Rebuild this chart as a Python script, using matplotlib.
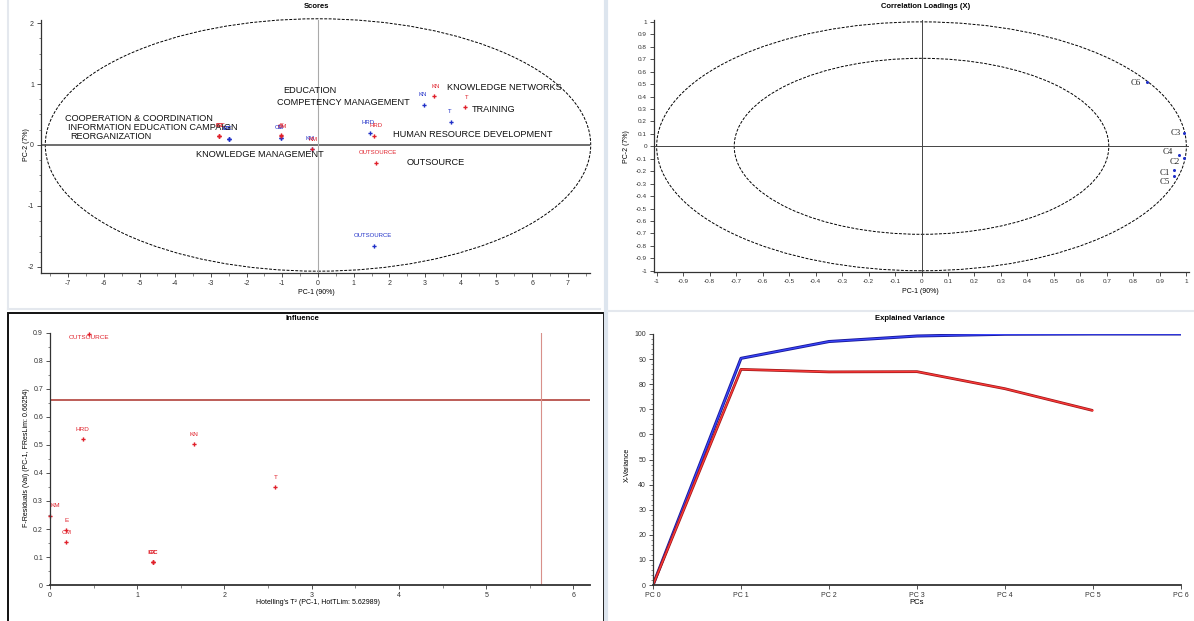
import matplotlib
matplotlib.use("Agg")
import matplotlib.pyplot as plt
import numpy as np
from matplotlib.patches import Ellipse, Rectangle
from matplotlib.lines import Line2D
from matplotlib.ticker import MultipleLocator, FixedLocator

plt.rcParams['font.family'] = ['Liberation Sans', 'DejaVu Sans']
plt.rcParams['axes.unicode_minus'] = False

# ---------------------------------------------------------------------------
# DATA
# ---------------------------------------------------------------------------
# Scores (PC-1 / PC-2), red = validation, blue = calibration
score_names = ["KN", "T", "HRD", "OUTSOURCE", "KM", "E", "CM", "CC", "IEC", "R"]
score_red_x = [3.25, 4.12, 1.58, 1.63, -0.18, -1.05, -1.05, -2.78, -2.78, -2.78]
score_red_y = [0.80, 0.62, 0.15, -0.29, -0.07, 0.16, 0.14, 0.15, 0.15, 0.15]
score_blue_x = [2.97, 3.73, 1.45, 1.58, -0.18, -1.05, -1.05, -2.50, -2.50, -2.50]
score_blue_y = [0.66, 0.37, 0.19, -1.66, -0.07, 0.12, 0.12, 0.10, 0.10, 0.10]

# black annotations written on the scores plot
note_text = ["KNOWLEDGE NETWORKS", "TRAINING", "HUMAN RESOURCE DEVELOPMENT",
             "OUTSOURCE", "KNOWLEDGE MANAGEMENT", "EDUCATION",
             "COMPETENCY MANAGEMENT", "COOPERATION & COORDINATION",
             "INFORMATION EDUCATION CAMPAIGN", "REORGANIZATION"]
note_x = [3.62, 4.32, 2.09, 2.49, -3.43, -0.97, -1.14, -7.1, -7.0, -6.95]
note_y = [0.95, 0.59, 0.18, -0.28, -0.16, 0.90, 0.70, 0.44, 0.29, 0.14]

# Correlation loadings (X)
load_names = ["C1", "C2", "C3", "C4", "C5", "C6"]
load_x = [0.955, 0.99, 0.99, 0.974, 0.955, 0.85]
load_y = [-0.19, -0.094, 0.107, -0.067, -0.24, 0.52]

# Influence
inf_names = ["OUTSOURCE", "HRD", "KN", "T", "KM", "E", "CM", "CC", "IEC", "R"]
inf_x = [0.45, 0.376, 1.655, 2.584, 0.0, 0.186, 0.186, 1.18, 1.18, 1.18]
inf_y = [0.895, 0.52, 0.504, 0.35, 0.248, 0.195, 0.152, 0.081, 0.081, 0.081]
fres_lim = 0.661
hot_lim = 5.62989

# Explained variance
pc_labels = ["PC 0", "PC 1", "PC 2", "PC 3", "PC 4", "PC 5", "PC 6"]
var_calib = [0, 90.3, 97.0, 99.2, 99.9, 100, 100]
var_valid = [0, 85.9, 84.9, 85.0, 78.2, 69.5]

# ---------------------------------------------------------------------------
RED = "#e0202a"
BLUE = "#2030c8"
W, H = 1194, 621
fig = plt.figure(figsize=(W / 100, H / 100), dpi=100)


def box(l, t, r, b):
    return [l / W, 1 - b / H, (r - l) / W, (b - t) / H]


def style(ax):
    for s in ["top", "right"]:
        ax.spines[s].set_visible(False)
    for s in ["left", "bottom"]:
        ax.spines[s].set_linewidth(0.9)
        ax.spines[s].set_color("#333333")
    ax.tick_params(which="major", direction="out", length=3, width=0.6,
                   labelsize=5, pad=2, colors="#333333")
    ax.tick_params(which="minor", direction="out", length=1.8, width=0.5,
                   colors="#555555")


def fmt(v):
    v = round(v, 3)
    return "0" if v == 0 else ("%g" % v)


# panel separators
fig.add_artist(Line2D([606 / W, 606 / W], [0, 1], color="#dde5ee", lw=3))
fig.add_artist(Line2D([8 / W, 600 / W], [1 - 309 / H] * 2, color="#e4e8ee", lw=1.5))
fig.add_artist(Line2D([8 / W, 8 / W], [1 - 309 / H, 1], color="#e4e8ee", lw=1.5))
fig.add_artist(Line2D([608 / W, 1194 / W], [1 - 311 / H] * 2, color="#e4e8ee", lw=1.5))
fig.add_artist(Rectangle((8 / W, -0.01), (604 - 8) / W, 1 - 313 / H + 0.01,
                         transform=fig.transFigure, fill=False,
                         edgecolor="#111111", lw=1.4))

# ---------------------------------------------------------------------------
# SCORES
# ---------------------------------------------------------------------------
ax1 = fig.add_axes(box(41, 20, 590, 273))
style(ax1)
ax1.set_xlim(-7.76, 7.62)
ax1.set_ylim(-2.1, 2.05)
ax1.axhline(0, color="#555555", lw=1.2)
ax1.axvline(0, color="#aaaaaa", lw=0.8)
ax1.add_patch(Ellipse((0, 0), 2 * 7.64, 2 * 2.07, fill=False, color="black",
                      lw=0.7, ls=(0, (3, 1.5)), clip_on=False))
ax1.plot(score_blue_x, score_blue_y, "P", color=BLUE, ms=3, mew=0)
ax1.plot(score_red_x, score_red_y, "P", color=RED, ms=3, mew=0)
for n, x, y in zip(score_names, score_blue_x, score_blue_y):
    ax1.annotate(n, (x, y), xytext=(-1, 6.5), textcoords="offset points",
                 ha="center", fontsize=4.3, color=BLUE)
for n, x, y in zip(score_names, score_red_x, score_red_y):
    ax1.annotate(n, (x, y), xytext=(1, 6), textcoords="offset points",
                 ha="center", fontsize=4.3, color=RED)
for t, x, y in zip(note_text, note_x, note_y):
    ax1.text(x, y, t, fontsize=6.6, va="center", ha="left", color="#111111")
ax1.xaxis.set_major_locator(MultipleLocator(1))
ax1.xaxis.set_minor_locator(MultipleLocator(0.5))
ax1.yaxis.set_major_locator(MultipleLocator(1))
ax1.yaxis.set_minor_locator(MultipleLocator(0.25))
ax1.set_xticklabels([fmt(v) for v in ax1.get_xticks()])
ax1.set_yticklabels([fmt(v) for v in ax1.get_yticks()])
fig.text(316 / W, 1 - 7 / H, "Scores", ha="center", va="center", fontsize=5.5,
         weight="bold")
fig.text(316 / W, 1 - 292 / H, "PC-1 (90%)", ha="center", va="center", fontsize=5)
fig.text(26 / W, 1 - 145 / H, "PC-2 (7%)", ha="center", va="center", fontsize=5,
         rotation=90)

# ---------------------------------------------------------------------------
# CORRELATION LOADINGS
# ---------------------------------------------------------------------------
ax2 = fig.add_axes(box(654, 20, 1189, 272))
style(ax2)
ax2.set_xlim(-1.01, 1.01)
ax2.set_ylim(-1.01, 1.015)
ax2.axhline(0, color="#444444", lw=0.7)
ax2.axvline(0, color="#444444", lw=0.7)
for r in [1.0, np.sqrt(0.5)]:
    ax2.add_patch(Ellipse((0, 0), 2 * r, 2 * r, fill=False, color="black",
                          lw=0.7, ls=(0, (3, 1.5))))
ax2.plot(load_x, load_y, "o", color=BLUE, ms=2.2, mew=0)
load_off = {"C1": (-3, -2), "C2": (-3, -3), "C3": (-2, 0), "C4": (-5, 2),
            "C5": (-3, -4), "C6": (-4, -1)}
for n, x, y in zip(load_names, load_x, load_y):
    ax2.annotate(n, (x, y), xytext=load_off[n], textcoords="offset points",
                 ha="right", va="center", fontsize=6.3, color="#222222",
                 family="Liberation Serif")
ticks = np.round(np.arange(-1, 1.01, 0.1), 1)
ax2.xaxis.set_major_locator(FixedLocator(ticks))
ax2.yaxis.set_major_locator(FixedLocator(ticks))
ax2.set_xticklabels([fmt(v) for v in ticks])
ax2.set_yticklabels([fmt(v) for v in ticks])
ax2.tick_params(labelsize=4.6)
fig.text(926 / W, 1 - 7 / H, "Correlation Loadings (X)", ha="center",
         va="center", fontsize=5.5, weight="bold")
fig.text(920 / W, 1 - 291 / H, "PC-1 (90%)", ha="center", va="center", fontsize=5)
fig.text(627 / W, 1 - 147 / H, "PC-2 (7%)", ha="center", va="center", fontsize=5,
         rotation=90)

# ---------------------------------------------------------------------------
# INFLUENCE
# ---------------------------------------------------------------------------
ax3 = fig.add_axes(box(50, 333, 590, 585))
style(ax3)
ax3.spines["bottom"].set_linewidth(1.3)
ax3.set_xlim(0, 6.19)
ax3.set_ylim(0, 0.9)
ax3.axhline(fres_lim, color="#b8504a", lw=1.3)
ax3.axvline(hot_lim, color="#d8908a", lw=0.8)
ax3.plot(inf_x, inf_y, "P", color=RED, ms=3, mew=0, clip_on=False)
inf_off = {"OUTSOURCE": (0, -2), "KM": (4, 7), "E": (0, 7)}
for n, x, y in zip(inf_names, inf_x, inf_y):
    dx, dy = inf_off.get(n, (0, 7))
    ax3.annotate(n, (x, y), xytext=(dx, dy), textcoords="offset points",
                 ha="center", va="center", fontsize=4.6, color=RED,
                 annotation_clip=False)
ax3.xaxis.set_major_locator(MultipleLocator(1))
ax3.xaxis.set_minor_locator(MultipleLocator(0.5))
ax3.yaxis.set_major_locator(MultipleLocator(0.1))
ax3.yaxis.set_minor_locator(MultipleLocator(0.05))
ax3.set_xticklabels([fmt(v) for v in ax3.get_xticks()])
ax3.set_yticklabels([fmt(v) for v in ax3.get_yticks()])
fig.text(302 / W, 1 - 319 / H, "Influence", ha="center", va="center",
         fontsize=5.5, weight="bold")
fig.text(318 / W, 1 - 603 / H, "Hotelling's T\u00b2 (PC-1, HotTLim: 5.62989)",
         ha="center", va="center", fontsize=5)
fig.text(27 / W, 1 - 458 / H, "F-Residuals (Val) (PC-1, FResLim: 0.66254)",
         ha="center", va="center", fontsize=5, rotation=90)

# ---------------------------------------------------------------------------
# EXPLAINED VARIANCE
# ---------------------------------------------------------------------------
ax4 = fig.add_axes(box(653, 334, 1181, 585))
style(ax4)
ax4.spines["bottom"].set_linewidth(1.3)
ax4.set_xlim(0, 6)
ax4.set_ylim(0, 100)
ax4.plot(range(len(var_calib)), var_calib, color="#1a1a9a", lw=2.2,
         solid_capstyle="butt")
ax4.plot(range(len(var_calib)), var_calib, color="#3a46ff", lw=0.9)
ax4.plot(range(len(var_valid)), var_valid, color="#a01818", lw=2.0,
         solid_capstyle="butt")
ax4.plot(range(len(var_valid)), var_valid, color="#ff3a3a", lw=0.9)
ax4.set_xticks(range(len(pc_labels)))
ax4.set_xticklabels(pc_labels)
ax4.yaxis.set_major_locator(MultipleLocator(10))
ax4.yaxis.set_minor_locator(MultipleLocator(2))
ax4.set_yticklabels([fmt(v) for v in ax4.get_yticks()])
fig.text(910 / W, 1 - 319 / H, "Explained Variance", ha="center", va="center",
         fontsize=5.5, weight="bold")
fig.text(917 / W, 1 - 603 / H, "PCs", ha="center", va="center", fontsize=5.5)
fig.text(627 / W, 1 - 465 / H, "X-Variance", ha="center", va="center",
         fontsize=5, rotation=90)

fig.savefig("out.png", dpi=100)
